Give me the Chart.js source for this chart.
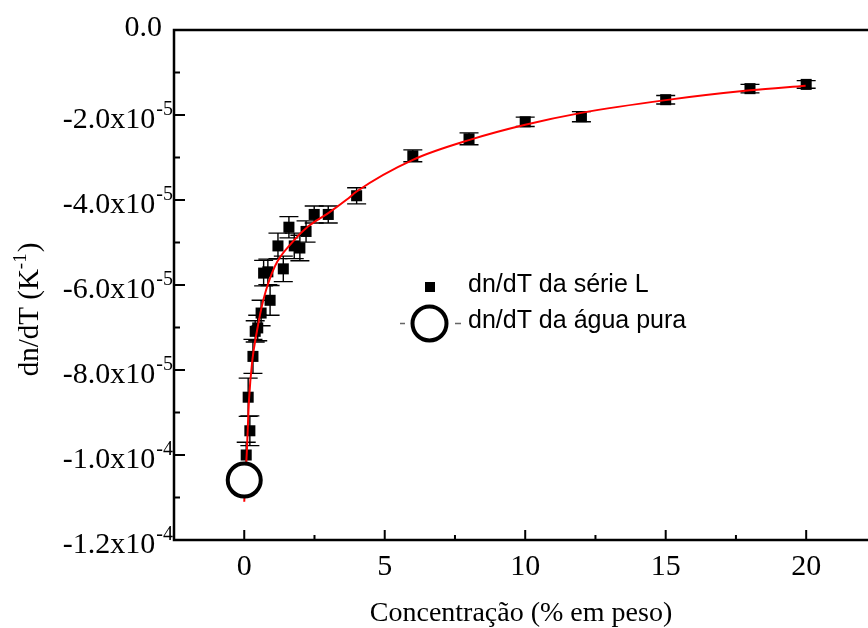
<!DOCTYPE html>
<html>
<head>
<meta charset="utf-8">
<script src="https://cdn.jsdelivr.net/npm/chart.js@4"></script>
<style>
  body { margin: 0; background: #fff; }
  canvas { display: block; }
</style>
</head>
<body>
<canvas id="grafico" width="868" height="628"></canvas>
<script>
// serie L: concentracao (% em peso) e dn/dT (K^-1)
const concL = [0.07, 0.14, 0.2, 0.31, 0.39, 0.48, 0.6, 0.69, 0.84, 0.92, 1.2, 1.39, 1.59, 1.78, 1.98, 2.2, 2.49, 2.99, 4, 6, 8, 10, 12, 15, 18, 20];
const dndtL = [-10.0e-5, -8.64e-5, -9.43e-5, -7.68e-5, -7.09e-5, -7.01e-5, -6.66e-5, -5.72e-5, -5.69e-5, -6.36e-5, -5.08e-5, -5.62e-5, -4.64e-5, -5.08e-5, -5.13e-5, -4.74e-5, -4.34e-5, -4.34e-5, -3.90e-5, -2.96e-5, -2.56e-5, -2.16e-5, -2.04e-5, -1.64e-5, -1.38e-5, -1.28e-5];
const erroL = [0.30e-5, 0.45e-5, 0.35e-5, 0.40e-5, 0.25e-5, 0.30e-5, 0.30e-5, 0.30e-5, 0.30e-5, 0.35e-5, 0.30e-5, 0.30e-5, 0.25e-5, 0.30e-5, 0.30e-5, 0.25e-5, 0.20e-5, 0.20e-5, 0.19e-5, 0.14e-5, 0.14e-5, 0.11e-5, 0.12e-5, 0.10e-5, 0.10e-5, 0.09e-5];

// agua pura
const concAgua = [0];
const dndtAgua = [-10.59e-5];

// curva de ajuste
const concAjuste = [0.0, 0.09, 0.17, 0.29, 0.44, 0.68, 1.09, 1.69, 2.28, 2.99, 3.65, 4.0, 6.02, 8.05, 10.0, 12.0, 15.0, 18.0, 19.98];
const dndtAjuste = [-11.10e-5, -9.96e-5, -8.70e-5, -7.76e-5, -7.13e-5, -6.35e-5, -5.56e-5, -5.01e-5, -4.62e-5, -4.31e-5, -3.99e-5, -3.80e-5, -3.05e-5, -2.58e-5, -2.23e-5, -1.95e-5, -1.65e-5, -1.42e-5, -1.31e-5];

// ticks
const xTicks = [0, 5, 10, 15, 20];
const xTicksMenores = [-2.5, 2.5, 7.5, 12.5, 17.5];
const yTicks = [0, -2e-5, -4e-5, -6e-5, -8e-5, -10e-5, -12e-5];
const yTicksMenores = [-1e-5, -3e-5, -5e-5, -7e-5, -9e-5, -11e-5];
const yLabels = [['0.0', ''], ['-2.0x10', '-5'], ['-4.0x10', '-5'], ['-6.0x10', '-5'], ['-8.0x10', '-5'], ['-1.0x10', '-4'], ['-1.2x10', '-4']];

const serif = '"Liberation Serif", "Times New Roman", serif';
const sans = '"Liberation Sans", Arial, sans-serif';

function pontos(xs, ys) {
    return xs.map((x, i) => ({ x: x, y: ys[i] }));
}

const barrasErro = {
    id: 'barrasErro',
    beforeDatasetsDraw(chart) {
        const ctx = chart.ctx;
        const sx = chart.scales.x, sy = chart.scales.y;
        ctx.save();
        ctx.strokeStyle = '#000';
        ctx.lineWidth = 1.4;
        concL.forEach((c, i) => {
            const px = sx.getPixelForValue(c);
            const y1 = sy.getPixelForValue(dndtL[i] + erroL[i]);
            const y2 = sy.getPixelForValue(dndtL[i] - erroL[i]);
            ctx.beginPath();
            ctx.moveTo(px, y1); ctx.lineTo(px, y2);
            ctx.moveTo(px - 9.5, y1); ctx.lineTo(px + 9.5, y1);
            ctx.moveTo(px - 9.5, y2); ctx.lineTo(px + 9.5, y2);
            ctx.stroke();
        });
        ctx.restore();
    }
};

const eixos = {
    id: 'eixos',
    afterDraw(chart) {
        const ctx = chart.ctx;
        const a = chart.chartArea;
        const sx = chart.scales.x, sy = chart.scales.y;
        ctx.save();
        ctx.strokeStyle = '#000';
        ctx.fillStyle = '#000';
        ctx.lineWidth = 2.5;
        ctx.beginPath();
        ctx.moveTo(a.right, a.top); ctx.lineTo(a.left, a.top);
        ctx.lineTo(a.left, a.bottom); ctx.lineTo(a.right, a.bottom);
        ctx.stroke();

        // ticks para dentro
        ctx.lineWidth = 2;
        ctx.beginPath();
        xTicks.forEach(v => { const p = sx.getPixelForValue(v); ctx.moveTo(p, a.bottom); ctx.lineTo(p, a.bottom - 10); });
        xTicksMenores.forEach(v => { const p = sx.getPixelForValue(v); ctx.moveTo(p, a.bottom); ctx.lineTo(p, a.bottom - 5); });
        yTicks.forEach(v => { const p = sy.getPixelForValue(v); ctx.moveTo(a.left, p); ctx.lineTo(a.left + 11, p); });
        yTicksMenores.forEach(v => { const p = sy.getPixelForValue(v); ctx.moveTo(a.left, p); ctx.lineTo(a.left + 6, p); });
        ctx.stroke();

        // rotulos x
        ctx.font = '30px ' + serif;
        ctx.textAlign = 'center';
        ctx.textBaseline = 'alphabetic';
        xTicks.forEach(v => ctx.fillText(String(v), sx.getPixelForValue(v), 575));

        // rotulos y com expoente
        yTicks.forEach((v, i) => {
            const p = sy.getPixelForValue(v);
            const [base, exp] = yLabels[i];
            ctx.textAlign = 'left';
            if (!exp) {
                ctx.font = '30px ' + serif;
                const w = ctx.measureText(base).width;
                ctx.fillText(base, 162 - w, p + 6);
                return;
            }
            ctx.font = '20px ' + serif;
            const we = ctx.measureText(exp).width;
            ctx.font = '30px ' + serif;
            const wb = ctx.measureText(base).width;
            const x0 = 172 - we - wb;
            ctx.fillText(base, x0, p + 13);
            ctx.font = '20px ' + serif;
            ctx.fillText(exp, x0 + wb + 1, p);
        });

        // titulo x
        ctx.font = '28px ' + serif;
        ctx.textAlign = 'center';
        ctx.fillText('Concentração (% em peso)', (a.left + a.right) / 2, 621);

        // titulo y
        ctx.save();
        ctx.translate(38, 310);
        ctx.rotate(-Math.PI / 2);
        ctx.textAlign = 'left';
        ctx.font = '29px ' + serif;
        const t1 = 'dn/dT (K', t3 = ')';
        const w1 = ctx.measureText(t1).width, w3 = ctx.measureText(t3).width;
        ctx.font = '19px ' + serif;
        const w2 = ctx.measureText('-1').width;
        let x = -(w1 + w2 + w3) / 2;
        ctx.font = '29px ' + serif;
        ctx.fillText(t1, x, 0);
        ctx.font = '19px ' + serif;
        ctx.fillText('-1', x + w1, -12);
        ctx.font = '29px ' + serif;
        ctx.fillText(t3, x + w1 + w2 + 1, 0);
        ctx.restore();

        // legenda
        ctx.fillRect(425, 282, 10, 10);
        ctx.strokeStyle = '#666';
        ctx.lineWidth = 1.3;
        ctx.beginPath();
        ctx.moveTo(400, 323.5); ctx.lineTo(405, 323.5);
        ctx.moveTo(455, 323.5); ctx.lineTo(461, 323.5);
        ctx.stroke();
        ctx.strokeStyle = '#000';
        ctx.lineWidth = 4;
        ctx.beginPath();
        ctx.arc(429.5, 323.5, 17, 0, Math.PI * 2);
        ctx.stroke();
        ctx.font = '25px ' + sans;
        ctx.textAlign = 'left';
        ctx.fillText('dn/dT da série L', 468, 292);
        ctx.fillText('dn/dT da água pura', 468, 328);
        ctx.restore();
    }
};

new Chart(document.getElementById('grafico').getContext('2d'), {
    type: 'scatter',
    data: {
        datasets: [
            {
                label: 'dn/dT da série L',
                data: pontos(concL, dndtL),
                pointStyle: 'rect',
                pointRadius: 7.8,
                pointBorderWidth: 0,
                backgroundColor: '#000',
                borderColor: '#000',
                order: 3
            },
            {
                label: 'ajuste',
                data: pontos(concAjuste, dndtAjuste),
                showLine: true,
                borderColor: '#ff0000',
                borderWidth: 2,
                pointRadius: 0,
                cubicInterpolationMode: 'monotone',
                order: 2
            },
            {
                label: 'dn/dT da água pura',
                data: pontos(concAgua, dndtAgua),
                pointStyle: 'circle',
                pointRadius: 16.5,
                pointBorderWidth: 4,
                backgroundColor: '#fff',
                borderColor: '#000',
                order: 1
            }
        ]
    },
    options: {
        responsive: false,
        animation: false,
        devicePixelRatio: 1,
        layout: { autoPadding: false, padding: { left: 174, top: 30, right: 0, bottom: 88 } },
        plugins: { legend: { display: false }, tooltip: { enabled: false } },
        scales: {
            x: { type: 'linear', min: -2.5, max: 22.2, display: false },
            y: { type: 'linear', min: -12e-5, max: 0, display: false }
        }
    },
    plugins: [barrasErro, eixos]
});
</script>
</body>
</html>
